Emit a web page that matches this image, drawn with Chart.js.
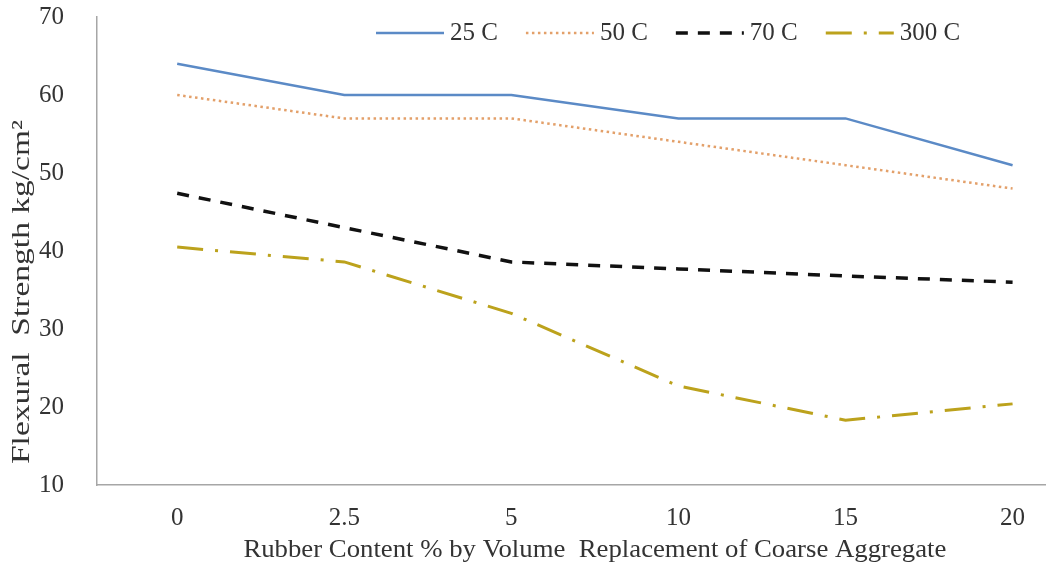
<!DOCTYPE html>
<html>
<head>
<meta charset="utf-8">
<script src="https://cdn.jsdelivr.net/npm/chart.js@4/dist/chart.umd.min.js"></script>
<style>
  html, body { margin: 0; padding: 0; background: #fff; }
  #chart { display: block; }
</style>
</head>
<body>
<canvas id="chart" width="1046" height="565"></canvas>
<script>
// data
const categories = ["0", "2.5", "5", "10", "15", "20"];
const s25 = [64, 60, 60, 57, 57, 51];
const s50 = [60, 57, 57, 54, 51, 48];
const s70 = [47.4, 43, 38.6, 37.7, 36.8, 36];
const s300 = [40.5, 38.6, 32, 22.7, 18.3, 20.4];
const seriesNames = ["25 C", "50 C", "70 C", "300 C"];
const yTicks = [10, 20, 30, 40, 50, 60, 70];

const FONT = "Liberation Serif";
const TEXT = "#333333";

function pts(arr) {
  return arr.map((v, i) => ({ x: i, y: v }));
}

// legend + axis titles drawn onto the canvas
const extras = {
  id: "extras",
  afterDraw(chart) {
    const ctx = chart.ctx;
    ctx.save();
    ctx.font = "25px " + FONT;
    ctx.fillStyle = TEXT;
    ctx.textBaseline = "middle";

    // legend
    let x = 376;
    const y = 33;
    chart.data.datasets.forEach(ds => {
      ctx.save();
      ctx.strokeStyle = ds.borderColor;
      ctx.lineWidth = ds.borderWidth;
      ctx.setLineDash(ds.borderDash || []);
      ctx.beginPath();
      ctx.moveTo(x, y);
      ctx.lineTo(x + 68, y);
      ctx.stroke();
      ctx.restore();
      ctx.textAlign = "left";
      ctx.fillText(ds.label, x + 74, y);
      x += 74 + ctx.measureText(ds.label).width + 28;
    });

    // x title (source image is a bit stretched, so stretch the text too)
    const xs = chart.scales.x;
    ctx.textAlign = "center";
    ctx.save();
    ctx.translate(xs.getPixelForValue(2.5), 550);
    ctx.scale(1.07, 1);
    ctx.fillText("Rubber Content % by Volume  Replacement of Coarse Aggregate", 0, 0);
    ctx.restore();

    // y title
    ctx.translate(22, 292);
    ctx.rotate(-Math.PI / 2);
    ctx.scale(1.34, 1);
    ctx.fillText("Flexural  Strength kg/cm\u00B2", 0, 0);
    ctx.restore();
  }
};

new Chart(document.getElementById("chart").getContext("2d"), {
  type: "line",
  data: {
    datasets: [
      { label: seriesNames[0], data: pts(s25), borderColor: "#5b8ac6", borderWidth: 2.5 },
      { label: seriesNames[1], data: pts(s50), borderColor: "#e3a06a", borderWidth: 2.5, borderDash: [2.5, 3.5] },
      { label: seriesNames[2], data: pts(s70), borderColor: "#111111", borderWidth: 3.5, borderDash: [12, 10] },
      { label: seriesNames[3], data: pts(s300), borderColor: "#bca21c", borderWidth: 3, borderDash: [26, 12, 3, 12] }
    ]
  },
  options: {
    responsive: false,
    animation: false,
    devicePixelRatio: 1,
    layout: { padding: { left: 0, top: 17, right: 0, bottom: 0 } },
    elements: {
      point: { radius: 0 },
      line: { tension: 0, fill: false }
    },
    plugins: {
      legend: { display: false },
      tooltip: { enabled: false }
    },
    scales: {
      x: {
        type: "linear",
        min: -0.48,
        max: 5.2,
        grid: { display: false },
        border: { color: "#a6a6a6", width: 1.5 },
        afterBuildTicks: s => { s.ticks = categories.map((c, i) => ({ value: i })); },
        afterFit: s => { s.height = 80; s.paddingLeft = 0; s.paddingRight = 0; },
        ticks: {
          autoSkip: false,
          maxRotation: 0,
          padding: 10,
          color: TEXT,
          font: { family: FONT, size: 25 },
          callback: v => categories[v]
        }
      },
      y: {
        min: 10,
        max: 70,
        grid: { display: false },
        border: { color: "#a6a6a6", width: 1.5 },
        afterBuildTicks: s => { s.ticks = yTicks.map(v => ({ value: v })); },
        afterFit: s => { s.width = 97; s.paddingTop = 0; s.paddingBottom = 0; },
        ticks: {
          padding: 25,
          color: TEXT,
          font: { family: FONT, size: 25 }
        }
      }
    }
  },
  plugins: [extras]
});
</script>
</body>
</html>
